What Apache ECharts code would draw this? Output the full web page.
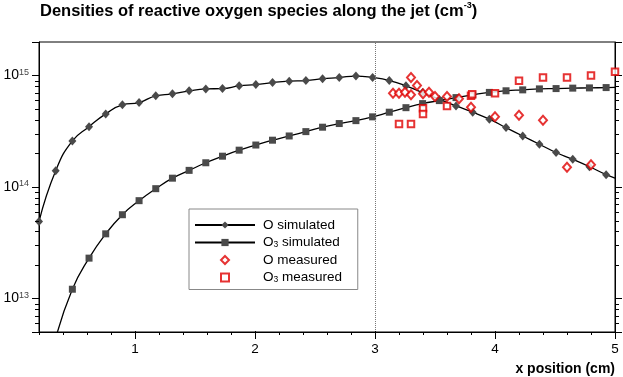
<!DOCTYPE html>
<html>
<head>
<meta charset="utf-8">
<script src="https://cdn.jsdelivr.net/npm/echarts@6/dist/echarts.min.js"></script>
<style>html,body{margin:0;padding:0;background:#fff}#c{width:623px;height:377px}</style>
</head>
<body>
<div id="c"></div>
<script>
// ---- data ----
const xSim = [0.2, 0.339, 0.478, 0.617, 0.756, 0.895, 1.034, 1.173, 1.312, 1.451, 1.59, 1.729, 1.868, 2.007, 2.146, 2.285, 2.424, 2.563, 2.702, 2.841, 2.98, 3.119, 3.258, 3.397, 3.536, 3.675, 3.814, 3.953, 4.092, 4.231, 4.37, 4.509, 4.648, 4.787, 4.926];
const oSim = [4.9e13, 1.4e14, 2.59e14, 3.48e14, 4.53e14, 5.46e14, 5.72e14, 6.58e14, 6.85e14, 7.29e14, 7.59e14, 7.64e14, 8.08e14, 8.3e14, 8.65e14, 8.91e14, 9.02e14, 9.34e14, 9.59e14, 9.9e14, 9.6e14, 9.02e14, 8.08e14, 7.03e14, 6.1e14, 5.34e14, 4.69e14, 4.06e14, 3.41e14, 2.87e14, 2.42e14, 2.04e14, 1.77e14, 1.52e14, 1.29e14];
const o3Sim = [null, 4.4e12, 1.21e13, 2.3e13, 3.8e13, 5.64e13, 7.54e13, 9.66e13, 1.2e14, 1.41e14, 1.65e14, 1.89e14, 2.14e14, 2.38e14, 2.63e14, 2.87e14, 3.14e14, 3.44e14, 3.71e14, 3.94e14, 4.26e14, 4.69e14, 5.15e14, 5.6e14, 5.96e14, 6.34e14, 6.71e14, 7.06e14, 7.3e14, 7.44e14, 7.59e14, 7.64e14, 7.71e14, 7.75e14, 7.8e14];
const oSimEdge = [5.0, 1.2e14];
const o3SimEdge = [5.0, 7.82e14];

const oMeasX = [3.15, 3.2, 3.25, 3.3, 3.3, 3.35, 3.4, 3.45, 3.5, 3.6, 3.7, 3.8, 4.0, 4.2, 4.4, 4.6, 4.8];
const oMeasY = [6.95e14, 6.95e14, 7.1e14, 9.59e14, 6.71e14, 8.13e14, 6.85e14, 7.1e14, 6.47e14, 6.47e14, 6.18e14, 5.2e14, 4.28e14, 4.41e14, 3.97e14, 1.5e14, 1.58e14];
const o3MeasX = [3.2, 3.3, 3.4, 3.4, 3.6, 3.8, 3.81, 4.0, 4.2, 4.4, 4.6, 4.8, 5.0];
const o3MeasY = [3.68e14, 3.68e14, 5.09e14, 4.53e14, 5.34e14, 6.6e14, 6.8e14, 6.95e14, 8.96e14, 9.59e14, 9.59e14, 1.0e15, 1.08e15];

const xMin = 0.2, xMax = 5, yMin = 5e12, yMax = 2e15;
const xMajorTicks = [1, 2, 3, 4, 5];
const yMinorTicks = [6e12, 7e12, 8e12, 9e12, 2e13, 3e13, 4e13, 5e13, 6e13, 7e13, 8e13, 9e13, 2e14, 3e14, 4e14, 5e14, 6e14, 7e14, 8e14, 9e14];
const verticalMarker = 3;

const seriesNames = ['O simulated', 'O3 simulated', 'O measured', 'O3 measured'];
const FONT = "'Liberation Sans', Arial, sans-serif";

// ---- build options ----
function simData(xs, ys, edge) {
  const out = [];
  xs.forEach((x, i) => { if (ys[i] != null) out.push([x, ys[i]]); });
  out.push({ value: edge, symbol: 'none' });
  return out;
}
const zip = (a, b) => a.map((v, i) => [v, b[i]]);

const chart = echarts.init(document.getElementById('c'), null, { renderer: 'canvas' });

function isPow10(v) {
  const l = Math.log10(v);
  return Math.abs(l - Math.round(l)) < 1e-6;
}

function legendRich(gap) {
  return {
    g: { width: gap },
    n: { fontFamily: FONT, fontSize: 13.5, color: '#000', lineHeight: 14 },
    sub: { fontFamily: FONT, fontSize: 8.5, color: '#000', lineHeight: 6, verticalAlign: 'bottom' }
  };
}
function legendFormatter(name) {
  if (name.indexOf('O3') === 0) return '{g|}{n|O}{sub|3}{n|' + name.slice(2) + '}';
  return '{g|}{n|' + name + '}';
}
const ROW = 14, GAP = 3.5;

const option = {
  animation: false,
  backgroundColor: '#fff',
  textStyle: { fontFamily: FONT },
  title: [{
    left: 40, top: 1, padding: 0,
    text: '{t|Densities of reactive oxygen species along the jet (cm}{s|-3}{t|)}',
    textStyle: {
      rich: {
        t: { fontFamily: FONT, fontSize: 16.5, fontWeight: 'bold', color: '#000', lineHeight: 20 },
        s: { fontFamily: FONT, fontSize: 9, fontWeight: 'bold', color: '#000', lineHeight: 10, verticalAlign: 'top' }
      }
    }
  }, {
    text: 'x position (cm)', right: 8, top: 362, padding: 0,
    textStyle: { fontFamily: FONT, fontSize: 14, fontWeight: 'bold', color: '#000' }
  }],
  grid: {
    left: 39, right: 8, top: 42, bottom: 45,
    outerBoundsMode: 'none', containLabel: false,
    show: true, borderColor: '#000', borderWidth: 1, backgroundColor: 'transparent'
  },
  legend: [{
    // simulated lines + framing box
    data: seriesNames.slice(0, 2),
    orient: 'vertical',
    left: 189, top: 209,
    itemWidth: 60, itemHeight: 9, itemGap: GAP,
    padding: [9, 18, 9 + 2 * ROW + 2 * GAP - 4, 5],
    backgroundColor: '#fff',
    borderColor: '#888', borderWidth: 1,
    selectedMode: false,
    formatter: legendFormatter,
    textStyle: { rich: legendRich(3) }
  }, {
    // measured points
    data: seriesNames.slice(2, 4),
    orient: 'vertical',
    left: 220, top: 209 + 9 + 2 * ROW + 2 * GAP,
    itemWidth: 8, itemHeight: 8, itemGap: GAP,
    padding: 0,
    selectedMode: false,
    formatter: legendFormatter,
    textStyle: { rich: legendRich(29) }
  }],
  xAxis: {
    type: 'value', min: xMin, max: xMax, interval: 0.2,
    axisLine: { show: true, lineStyle: { color: '#000', width: 1 } },
    axisTick: { show: true, length: 3, lineStyle: { color: '#000' } },
    splitLine: { show: false },
    axisLabel: {
      margin: 10, fontFamily: FONT, fontSize: 13.5, color: '#000',
      formatter: function (v) { return Math.abs(v - Math.round(v)) < 1e-6 ? String(Math.round(v)) : ''; }
    }
  },
  yAxis: [{
    type: 'log', min: yMin, max: yMax, logBase: 10, position: 'left',
    axisLine: { show: true, lineStyle: { color: '#000', width: 1 } },
    axisTick: { show: true, length: 7, lineStyle: { color: '#000' } },
    splitLine: { show: false },
    axisLabel: {
      margin: 10,
      formatter: function (v) { return isPow10(v) ? '{b|10}{p|' + Math.round(Math.log10(v)) + '}' : ''; },
      rich: {
        b: { fontFamily: FONT, fontSize: 14, color: '#000', lineHeight: 15 },
        p: { fontFamily: FONT, fontSize: 9, color: '#444', lineHeight: 8, verticalAlign: 'top' }
      }
    }
  }, {
    type: 'log', min: yMin, max: yMax, logBase: 10, position: 'right',
    axisLine: { show: true, lineStyle: { color: '#000', width: 1 } },
    axisTick: { show: true, length: 7, lineStyle: { color: '#000' } },
    splitLine: { show: false },
    axisLabel: { show: false }
  }],
  series: [{
    name: seriesNames[0], type: 'line', yAxisIndex: 0,
    data: simData(xSim, oSim, oSimEdge),
    smooth: true, symbol: 'diamond', symbolSize: [8, 9], showSymbol: true,
    lineStyle: { color: '#000', width: 1.3 },
    itemStyle: { color: '#4a4a4a' },
    clip: true, z: 3,
    markLine: {
      silent: true, symbol: ['none', 'none'], label: { show: false },
      lineStyle: { type: 'dotted', color: '#777', width: 1 },
      data: [{ xAxis: verticalMarker }],
      animation: false
    }
  }, {
    name: seriesNames[1], type: 'line', yAxisIndex: 0,
    data: simData(xSim, o3Sim, o3SimEdge),
    smooth: true, symbol: 'rect', symbolSize: 7, showSymbol: true,
    lineStyle: { color: '#000', width: 1.3 },
    itemStyle: { color: '#4a4a4a' },
    clip: true, z: 3
  }, {
    name: seriesNames[2], type: 'scatter', yAxisIndex: 0,
    data: zip(oMeasX, oMeasY),
    symbol: 'emptyDiamond', symbolSize: [8, 9],
    itemStyle: { color: '#e00000', borderColor: '#e00000', borderWidth: 1.3 },
    clip: false, z: 4
  }, {
    name: seriesNames[3], type: 'scatter', yAxisIndex: 0,
    data: zip(o3MeasX, o3MeasY),
    symbol: 'emptyRect', symbolSize: 6.5,
    itemStyle: { color: '#e00000', borderColor: '#e00000', borderWidth: 1.3 },
    clip: false, z: 4
  }, {
    name: 'xMajorTicks', type: 'custom', yAxisIndex: 0, silent: true, clip: false, z: 5,
    data: xMajorTicks.map(x => [x, yMin]),
    renderItem: function (params, api) {
      const p = api.coord([api.value(0), yMin]);
      const x = Math.round(p[0]) + 0.5;
      return { type: 'line', shape: { x1: x, y1: p[1] - 1, x2: x, y2: p[1] + 7 }, style: { stroke: '#000', lineWidth: 1 } };
    }
  }, {
    name: 'yMinorTicks', type: 'custom', yAxisIndex: 0, silent: true, clip: false, z: 5,
    data: yMinorTicks.map(v => [xMin, v]),
    renderItem: function (params, api) {
      const v = api.value(1);
      const pl = api.coord([xMin, v]);
      const pr = api.coord([xMax, v]);
      const y = Math.round(pl[1]) + 0.5;
      return {
        type: 'group', children: [
          { type: 'line', shape: { x1: pl[0] - 4, y1: y, x2: pl[0], y2: y }, style: { stroke: '#000', lineWidth: 1 } },
          { type: 'line', shape: { x1: pr[0], y1: y, x2: pr[0] + 4, y2: y }, style: { stroke: '#000', lineWidth: 1 } }
        ]
      };
    }
  }]
};
chart.setOption(option);
</script>
</body>
</html>
